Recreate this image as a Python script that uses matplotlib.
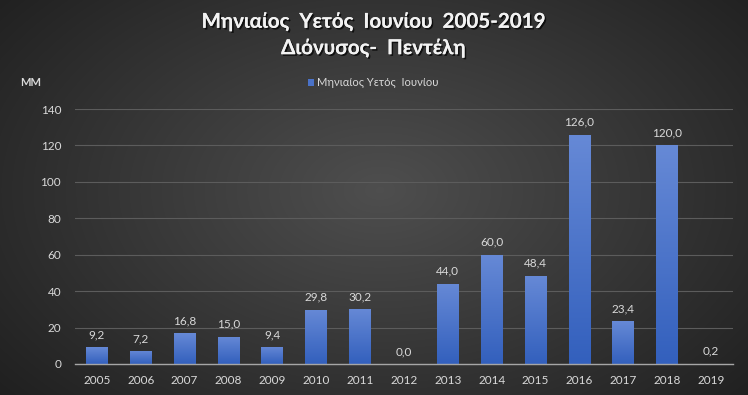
import numpy as np
import matplotlib as mpl
import matplotlib.pyplot as plt
import matplotlib.patheffects as pe
from matplotlib.colors import LinearSegmentedColormap

mpl.rcParams['font.family'] = ['Lato', 'DejaVu Sans']

# data
years = ['2005', '2006', '2007', '2008', '2009', '2010', '2011', '2012',
         '2013', '2014', '2015', '2016', '2017', '2018', '2019']
rain_mm = [9.2, 7.2, 16.8, 15.0, 9.4, 29.8, 30.2, 0.0,
           44.0, 60.0, 48.4, 126.0, 23.4, 120.0, 0.2]
yticks = [0, 20, 40, 60, 80, 100, 120, 140]

title = 'Μηνιαίος  Υετός  Ιουνίου  2005-2019\nΔιόνυσος-  Πεντέλη'
legend_label = 'Μηνιαίος Υετός  Ιουνίου'
txt_color = '#d9d9d9'

fig = plt.figure(figsize=(7.48, 3.95), dpi=100)

# radial background
bg = fig.add_axes([0, 0, 1, 1], zorder=-10)
yy, xx = np.mgrid[0:395, 0:748]
r = np.sqrt(((xx - 380) / 520.0) ** 2 + ((yy - 190) / 330.0) ** 2)
shade = np.clip(0.31 - 0.19 * r, 0.11, 0.31)
bg.imshow(shade, cmap='gray', vmin=0, vmax=1, aspect='auto',
          extent=[0, 1, 0, 1], origin='upper')
bg.set_axis_off()

ax = fig.add_axes([75 / 748, 1 - 364 / 395, 658 / 748, 255 / 395])
ax.set_facecolor('none')
x = np.arange(len(years))
bar_w = 0.5
bars = ax.bar(x, rain_mm, width=bar_w, color='#4a72c8', zorder=3,
              label=legend_label)

# vertical gradient on bars
grad_cmap = LinearSegmentedColormap.from_list('bg', ['#3360bd', '#6689d6'])
grad = np.linspace(0, 1, 100).reshape(-1, 1)
for b in bars:
    h = b.get_height()
    if h <= 0:
        continue
    im = ax.imshow(grad, cmap=grad_cmap, aspect='auto', origin='lower',
                   extent=[b.get_x(), b.get_x() + b.get_width(), 0, h],
                   zorder=4)
    im.set_clip_path(b)

ax.set_xlim(-0.5, len(years) - 0.5)
ax.set_ylim(0, 140)
ax.set_xticks(x)
ax.set_xticklabels(years)
ax.set_yticks(yticks)
ax.tick_params(colors=txt_color, labelsize=8.5, length=0, pad=8)
ax.tick_params(axis='y', pad=10)
for s in ['top', 'right', 'left']:
    ax.spines[s].set_visible(False)
ax.spines['bottom'].set_color('#a6a6a6')
ax.spines['bottom'].set_linewidth(1.0)
ax.spines['bottom'].set_zorder(5)
ax.grid(axis='y', color='#5c5c5c', linewidth=0.8, zorder=0)
ax.set_axisbelow(True)

for xi, v in zip(x, rain_mm):
    ax.annotate('{:.1f}'.format(v).replace('.', ','), (xi, v),
                xytext=(0, 5), textcoords='offset points', ha='center',
                va='bottom', color=txt_color, fontsize=8.5)

# title, legend, unit
shadow = [pe.withSimplePatchShadow(offset=(1.2, -1.2), shadow_rgbFace='black',
                                   alpha=0.7), pe.Normal()]
fig.text(373 / 748, 1 - 35 / 395, title, ha='center', va='center',
         fontsize=14.8, fontweight='bold', color='#f2f2f2', linespacing=1.4,
         path_effects=shadow)
leg = ax.legend(loc='center', bbox_to_anchor=(373 / 748, 1 - 83 / 395),
                bbox_transform=fig.transFigure, frameon=False, fontsize=8,
                handlelength=0.6, handleheight=0.6, handletextpad=0.2,
                labelcolor=txt_color)
fig.text(20 / 748, 1 - 83 / 395, 'MM', ha='left', va='center',
         fontsize=8, fontweight='bold', color=txt_color)

fig.savefig('out.png', dpi=100)
